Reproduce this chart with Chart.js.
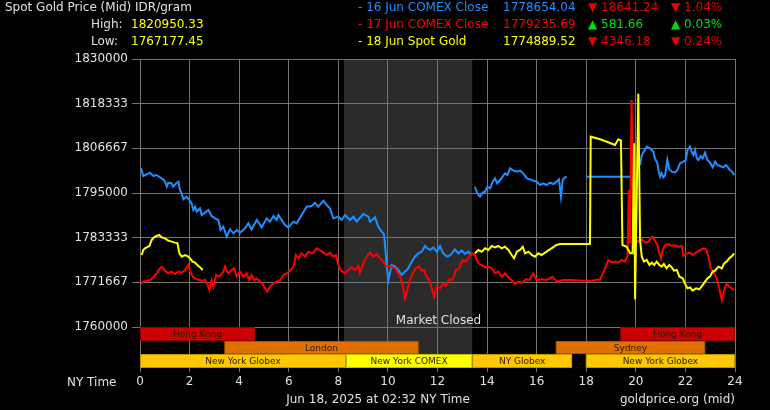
<!DOCTYPE html>
<html>
<head>
<meta charset="utf-8">
<title>Spot Gold Price (Mid) IDR/gram</title>
<script src="https://cdn.jsdelivr.net/npm/chart.js@4.4.1/dist/chart.umd.min.js"></script>
<style>
  html, body { margin: 0; padding: 0; background: #000; }
  canvas { display: block; }
</style>
</head>
<body>
<canvas id="goldChart" width="770" height="410"></canvas>
<script>
// ---- data (hours after midnight NY time, price in IDR/gram), null = gap ----
const blueHours = [
  0.04, 0.13, 0.27, 0.40, 0.54, 0.67, 0.87, 0.94, 1.01, 1.08,
  1.14, 1.28, 1.34, 1.48, 1.55, 1.61, 1.68, 1.75, 1.88, 1.99,
  2.08, 2.15, 2.22, 2.29, 2.42, 2.49, 2.62, 2.76, 2.89, 3.03,
  3.16, 3.25, 3.36, 3.50, 3.63, 3.77, 3.90, 4.03, 4.24, 4.37,
  4.50, 4.71, 4.91, 5.11, 5.24, 5.38, 5.51, 5.58, 5.85, 5.98,
  6.19, 6.32, 6.52, 6.72, 6.92, 7.06, 7.19, 7.40, 7.53, 7.66,
  7.80, 8.00, 8.13, 8.27, 8.47, 8.61, 8.74, 9.01, 9.21, 9.28,
  9.48, 9.61, 9.75, 9.84, 9.90, 9.95, 10.02, 10.15, 10.29, 10.42,
  10.56, 10.69, 10.82, 10.96, 11.09, 11.23, 11.36, 11.50, 11.59, 11.70,
  11.83, 11.97, 12.10, 12.23, 12.39, 12.53, 12.70, 12.84, 12.98, 13.11,
  13.24, 13.38, 13.45,
  13.51, 13.60, 13.71, 13.82, 13.92, 14.01, 14.12, 14.23, 14.32, 14.41,
  14.52, 14.63, 14.72, 14.82, 14.93, 15.06, 15.20, 15.33, 15.46, 15.60,
  15.73, 15.86, 16.00, 16.13, 16.27, 16.40, 16.54, 16.67, 16.80, 16.90,
  16.98, 17.05, 17.14, 17.21, 17.60, 18.02, 19.83, 20.00,
  20.17, 20.24, 20.44, 20.57, 20.71, 20.77, 20.87, 20.91, 20.98, 21.04,
  21.11, 21.18, 21.27, 21.35, 21.45, 21.58, 21.68, 21.78, 21.92, 22.02,
  22.08, 22.19, 22.25, 22.32, 22.39, 22.46, 22.52, 22.62, 22.70, 22.79,
  22.89, 22.99, 23.10, 23.20, 23.29, 23.40, 23.53, 23.64, 23.77, 23.88,
  23.97
];
const blueValues = [
  1801444, 1799442, 1799877, 1800312, 1799442, 1799703, 1798832, 1798571, 1797961, 1796656,
  1797700, 1797526, 1796656, 1797700, 1797961, 1795785, 1794914, 1793347, 1794044, 1793173,
  1792303, 1790561, 1791432, 1790126, 1790997, 1789255, 1789865, 1790561, 1788994, 1788385,
  1787950, 1785338, 1786208, 1783597, 1785512, 1784467, 1785338, 1784641, 1785773, 1787079,
  1785512, 1787950, 1786034, 1788385, 1787514, 1788994, 1787950, 1789255, 1786644, 1786034,
  1787514, 1787079, 1789255, 1791432, 1791606, 1792477, 1791432, 1792999, 1791867, 1790997,
  1788385, 1788820, 1787950, 1789255, 1787950, 1788820, 1787514, 1789517, 1788820, 1787514,
  1788646, 1786208, 1784902, 1784293, 1780114, 1775761, 1772279, 1776196, 1775761, 1774891,
  1773585, 1774455, 1775326, 1777067, 1778373, 1779244, 1779679, 1781159, 1780549, 1780114,
  1780811, 1779679, 1781159, 1779244, 1778373, 1778808, 1780288, 1779244, 1779940, 1779069,
  1779679, 1778808, null,
  1796656, 1794914, 1794044, 1795089, 1795350, 1796656, 1796220, 1797961, 1798832, 1797526,
  1798397, 1799267, 1800138, 1799703, 1801444, 1800834, 1800573, 1800834, 1800138, 1798832,
  1798571, 1798223, 1797961, 1797091, 1797526, 1797091, 1797700, 1797352, 1797961, 1798571,
  1794044, 1798397, 1799093, 1799267, null, 1799267, 1799267, null,
  1802315, 1804926, 1807103, 1806668, 1805797, 1804056, 1802750, 1801009, 1799268, 1800138,
  1799093, 1799703, 1803621, 1801183, 1800573, 1800312, 1801009, 1802750, 1803185, 1803621,
  1806232, 1807103, 1805797, 1804926, 1806232, 1804056, 1803621, 1804665, 1804056, 1805536,
  1803621, 1802924, 1801705, 1803185, 1802315, 1802054, 1801705, 1802315, 1801183, 1800573,
  1799703
];

const redHours = [
  0.04, 0.13, 0.27, 0.40, 0.54, 0.67, 0.81, 0.87, 1.01, 1.14,
  1.28, 1.41, 1.55, 1.68, 1.82, 1.95, 2.02, 2.15, 2.29, 2.49,
  2.62, 2.72, 2.80, 2.89, 2.96, 3.07, 3.20, 3.36, 3.43, 3.56,
  3.70, 3.79, 3.90, 4.03, 4.17, 4.30, 4.41, 4.50, 4.60, 4.71,
  4.84, 4.95, 5.04, 5.14, 5.24, 5.35, 5.51, 5.67, 5.78, 5.92,
  6.05, 6.19, 6.29, 6.39, 6.52, 6.66, 6.79, 6.97, 7.13, 7.26,
  7.40, 7.53, 7.66, 7.80, 7.91, 8.00, 8.09, 8.27, 8.40, 8.54,
  8.67, 8.81, 8.87, 9.01, 9.14, 9.28, 9.41, 9.55, 9.68, 9.82,
  9.92, 10.06, 10.29, 10.49, 10.58, 10.69, 10.78, 10.89, 11.00, 11.13,
  11.26, 11.36, 11.46, 11.56, 11.67, 11.77, 11.86, 11.97, 12.10, 12.23,
  12.34, 12.48, 12.61, 12.75, 12.88, 13.01, 13.15, 13.28, 13.38, 13.51,
  13.65, 13.78, 13.92, 14.05, 14.19, 14.32, 14.45, 14.59, 14.72, 14.86,
  14.99, 15.12, 15.26, 15.40, 15.57, 15.70, 15.86, 15.99, 16.20, 16.40,
  16.64, 16.81, 17.07, 17.35, 18.15, 18.56, 18.76, 18.89, 19.03, 19.16,
  19.29, 19.43, 19.56, 19.66, 19.72, 19.76, 19.83, 19.90, 20.02, 20.10,
  20.24, 20.37, 20.51, 20.60, 20.68, 20.77, 20.87, 20.95, 21.01, 21.08,
  21.18, 21.31, 21.45, 21.58, 21.72, 21.85, 21.92, 22.05, 22.19, 22.29,
  22.43, 22.56, 22.70, 22.83, 22.93, 23.02, 23.13, 23.26, 23.36, 23.47,
  23.56, 23.66, 23.80, 23.97
];
const redValues = [
  1771408, 1771843, 1772105, 1772279, 1772975, 1774020, 1775326, 1775761, 1774716, 1774020,
  1774455, 1773846, 1774455, 1774194, 1774891, 1776196, 1774455, 1772975, 1772453, 1772105,
  1772279, 1771234, 1769667, 1772279, 1770538, 1773585, 1773149, 1774455, 1775761, 1774020,
  1774891, 1775326, 1773149, 1774455, 1773149, 1774020, 1772279, 1773585, 1772279, 1772714,
  1771843, 1771234, 1770102, 1769232, 1770538, 1771234, 1771843, 1772279, 1773585, 1774020,
  1774716, 1775761, 1778808, 1777938, 1779244, 1778373, 1779679, 1779244, 1780549, 1780114,
  1779418, 1778808, 1779418, 1778373, 1778808, 1776196, 1774891, 1774020, 1774891, 1775587,
  1774891, 1775935, 1774194, 1776632, 1778373, 1779418, 1778373, 1779069, 1777938, 1777067,
  1775935, 1775935, 1775330, 1773149, 1771408, 1767490, 1769667, 1772279, 1774020, 1775326,
  1775761, 1774716, 1774891, 1773149, 1772279, 1770102, 1767926, 1770538, 1770102, 1771234,
  1770712, 1772453, 1772279, 1774891, 1775326, 1777502, 1777067, 1778373, 1779244, 1778808,
  1776632, 1776196, 1775587, 1775761, 1775326, 1774020, 1774455, 1773149, 1774020, 1772975,
  1772279, 1771234, 1771843, 1771582, 1772453, 1772279, 1774020, 1772279, 1772453, 1772279,
  1773149, 1771843, 1772279, 1772280, 1772020, 1772460, 1775326, 1777502, 1776806, 1777067,
  1776806, 1777502, 1777067, 1778373, 1795780, 1781940, 1819290, 1780970, 1782726, 1782291,
  1782900, 1782030, 1782291, 1783161, 1783597, 1782552, 1781420, 1779244, 1777938, 1780114,
  1781420, 1781681, 1781159, 1781420, 1780985, 1781159, 1778547, 1779244, 1779418, 1778808,
  1779418, 1779940, 1780550, 1780289, 1778373, 1775326, 1774455, 1772714, 1770102, 1767055,
  1769667, 1771234, 1770364, 1769667
];

const yellowHours = [
  0.07, 0.13, 0.20, 0.27, 0.38, 0.47, 0.56, 0.67, 0.78, 0.87,
  1.01, 1.14, 1.28, 1.41, 1.51, 1.59, 1.68, 1.82, 1.95, 2.02,
  2.12, 2.22, 2.31, 2.42, 2.53, 2.60,
  13.51, 13.65, 13.78, 13.92, 14.05, 14.19, 14.32, 14.45, 14.59, 14.72,
  14.86, 14.99, 15.09, 15.20, 15.33, 15.44, 15.53, 15.67, 15.80, 15.93,
  16.07, 16.20, 16.40, 16.60, 16.80, 16.94, 18.15, 18.18, 18.56, 18.83,
  19.16, 19.29, 19.40, 19.46, 19.63, 19.77, 19.87, 19.93, 19.97, 20.10,
  20.17, 20.24, 20.33, 20.44, 20.55, 20.64, 20.74, 20.84, 20.95, 21.04,
  21.13, 21.24, 21.35, 21.45, 21.54, 21.65, 21.76, 21.89, 21.98, 22.08,
  22.19, 22.29, 22.43, 22.56, 22.70, 22.79, 22.89, 22.99, 23.10, 23.20,
  23.33, 23.47, 23.56, 23.66, 23.77, 23.88, 23.97
];
const yellowValues = [
  1778808, 1780114, 1780549, 1780811, 1781159, 1782726, 1783422, 1783771, 1784032, 1783422,
  1783161, 1782552, 1782291, 1782030, 1781855, 1779244, 1778373, 1778808, 1778373, 1777938,
  1777067, 1776806, 1776196, 1775587, 1774890, null,
  1779244, 1780114, 1779679, 1780549, 1780114, 1781159, 1780811, 1781159, 1780549, 1780984,
  1780114, 1778808, 1777938, 1779679, 1780114, 1780984, 1779244, 1779679, 1778808, 1778373,
  1779244, 1778808, 1779679, 1780549, 1781420, 1781682, 1781680, 1809710, 1809030, 1808400,
  1807540, 1809030, 1808660, 1781420, 1780970, 1779250, 1779250, 1807980, 1767180, 1820950,
  1782726, 1778373, 1777067, 1777502, 1776196, 1776806, 1776196, 1777067, 1776196, 1775761,
  1776458, 1775326, 1776196, 1775587, 1774717, 1774891, 1773150, 1772714, 1771408, 1770102,
  1770364, 1769493, 1770102, 1769841, 1770973, 1771844, 1772714, 1773150, 1774455, 1774717,
  1775761, 1775326, 1776632, 1777067, 1777938, 1778547, 1779244
];

// y axis ticks
const yTickValues = [1760000, 1771667, 1783333, 1795000, 1806667, 1818333, 1830000];
const yTickLabels = ['1760000', '1771667', '1783333', '1795000', '1806667', '1818333', '1830000'];

// trading sessions (row 0 = Asia, row 1 = London/Sydney, row 2 = New York)
const sessionNames = ['Hong Kong', 'London', 'New York Globex', 'New York COMEX', 'NY Globex', 'Sydney', 'Hong Kong', 'New York Globex'];
const sessionStart = [0, 3.40, 0, 8.31, 13.40, 16.77, 19.37, 17.98];
const sessionEnd   = [4.64, 11.24, 8.31, 13.40, 17.43, 22.80, 24, 24];
const sessionRow   = [0, 1, 2, 2, 2, 1, 0, 2];
const closedFrom = 8.23;
const closedTo = 13.40;

// header numbers
const legendLabels = ['- 16 Jun COMEX Close', '- 17 Jun COMEX Close', '- 18 Jun Spot Gold'];
const legendPrices = ['1778654.04', '1779235.69', '1774889.52'];
const legendChanges = ['\u25BC 18641.24', '\u25B2 581.66', '\u25BC 4346.18'];
const legendPercents = ['\u25BC 1.04%', '\u25B2 0.03%', '\u25BC 0.24%'];
const dayHigh = '1820950.33';
const dayLow = '1767177.45';

// ---- styling ----
const FONT = "'DejaVu Sans', Verdana, sans-serif";
const lineColors = ['#1e8fff', '#ff0000', '#ffff00'];
const textColor = '#e0e0e0';
const gridColor = '#747474';
const upColor = '#00dd00';
const downColor = '#e80000';
const sessionColors = {
  'Hong Kong': '#cc0000',
  'London': '#e07000',
  'Sydney': '#e07000',
  'New York Globex': '#ffc800',
  'NY Globex': '#ffc800',
  'New York COMEX': '#ffff00'
};
// band edges of the session rows, in price units of the y axis
const rowEdges = [1760000, 1756350, 1752950, 1749292];

const toPoints = (hours, values) => hours.map((h, i) => ({ x: h, y: values[i] }));

const goldPlugin = {
  id: 'goldExtras',
  beforeDraw(chart) {
    const { ctx, chartArea, scales: { x, y } } = chart;
    ctx.save();
    ctx.fillStyle = '#000';
    ctx.fillRect(0, 0, chart.width, chart.height);
    // market closed shading
    const x0 = x.getPixelForValue(closedFrom);
    const x1 = x.getPixelForValue(closedTo);
    ctx.fillStyle = '#2b2b2b';
    ctx.fillRect(x0, chartArea.top, x1 - x0, y.getPixelForValue(rowEdges[2]) - chartArea.top);
    ctx.restore();
  },
  beforeDatasetsDraw(chart) {
    const { ctx, scales: { x, y } } = chart;
    ctx.save();
    ctx.font = '9px ' + FONT;
    ctx.textAlign = 'center';
    ctx.textBaseline = 'middle';
    sessionNames.forEach((name, i) => {
      const left = x.getPixelForValue(sessionStart[i]);
      const right = x.getPixelForValue(sessionEnd[i]);
      const top = y.getPixelForValue(rowEdges[sessionRow[i]]);
      const bottom = y.getPixelForValue(rowEdges[sessionRow[i] + 1]);
      ctx.fillStyle = sessionColors[name];
      ctx.fillRect(left, top, right - left, bottom - top);
      ctx.strokeStyle = 'rgba(0,0,0,0.25)';
      ctx.lineWidth = 1;
      ctx.strokeRect(left + 0.5, top + 0.5, right - left - 1, bottom - top - 1);
      ctx.fillStyle = '#2a1a00';
      ctx.fillText(name, (left + right) / 2, (top + bottom) / 2 + 1);
    });
    // label of the closed period
    ctx.font = '12px ' + FONT;
    ctx.fillStyle = textColor;
    ctx.fillText('Market Closed', x.getPixelForValue(12.04), y.getPixelForValue(1761570));
    ctx.restore();
  },
  afterDraw(chart) {
    const { ctx, chartArea } = chart;
    ctx.save();
    ctx.font = '12px ' + FONT;
    ctx.textBaseline = 'middle';
    ctx.textAlign = 'left';
    const rows = [8, 25, 42];

    ctx.fillStyle = textColor;
    ctx.fillText('Spot Gold Price (Mid) IDR/gram', 5, rows[0]);
    ctx.fillText('High:', 91, rows[1]);
    ctx.fillText('Low:', 91, rows[2]);
    ctx.fillStyle = '#ffff00';
    ctx.fillText(dayHigh, 131, rows[1]);
    ctx.fillText(dayLow, 131, rows[2]);

    legendLabels.forEach((label, i) => {
      ctx.fillStyle = lineColors[i];
      ctx.fillText(label, 358, rows[i]);
      ctx.fillText(legendPrices[i], 503, rows[i]);
      ctx.fillStyle = legendChanges[i].startsWith('\u25B2') ? upColor : downColor;
      ctx.fillText(legendChanges[i], 588, rows[i]);
      ctx.fillText(legendPercents[i], 671, rows[i]);
    });

    // footer
    ctx.fillStyle = textColor;
    ctx.fillText('NY Time', 67, 383);
    ctx.textAlign = 'center';
    ctx.fillText('Jun 18, 2025 at 02:32 NY Time', 378, 400);
    ctx.textAlign = 'right';
    ctx.fillText('goldprice.org (mid)', chartArea.right, 400);
    ctx.restore();
  }
};

Chart.defaults.font.family = FONT;
Chart.defaults.font.size = 12;
Chart.defaults.color = textColor;

new Chart(document.getElementById('goldChart'), {
  type: 'line',
  data: {
    datasets: [
      { label: '18 Jun Spot Gold', data: toPoints(yellowHours, yellowValues), borderColor: lineColors[2] },
      { label: '17 Jun COMEX Close', data: toPoints(redHours, redValues), borderColor: lineColors[1] },
      { label: '16 Jun COMEX Close', data: toPoints(blueHours, blueValues), borderColor: lineColors[0] }
    ]
  },
  options: {
    responsive: false,
    animation: false,
    devicePixelRatio: 1,
    spanGaps: false,
    elements: {
      line: { borderWidth: 2, tension: 0, fill: false },
      point: { radius: 0, hoverRadius: 0 }
    },
    layout: { padding: { top: 59, right: 35, left: 0, bottom: 0 } },
    plugins: {
      legend: { display: false },
      tooltip: { enabled: false }
    },
    scales: {
      x: {
        type: 'linear',
        min: 0,
        max: 24,
        border: { display: false },
        grid: { color: gridColor, lineWidth: 1, tickLength: 4 },
        ticks: { stepSize: 2, color: textColor, padding: 3, maxRotation: 0 },
        afterFit(scale) { scale.height = 42; }
      },
      y: {
        type: 'linear',
        min: 1749292,
        max: 1830000,
        border: { display: false },
        grid: { color: gridColor, lineWidth: 1, tickLength: 8 },
        ticks: {
          color: textColor,
          padding: 4,
          callback: (value, index) => yTickLabels[index]
        },
        afterBuildTicks(scale) {
          scale.ticks = yTickValues.map(v => ({ value: v }));
        },
        afterFit(scale) { scale.width = 140; }
      }
    }
  },
  plugins: [goldPlugin]
});
</script>
</body>
</html>
